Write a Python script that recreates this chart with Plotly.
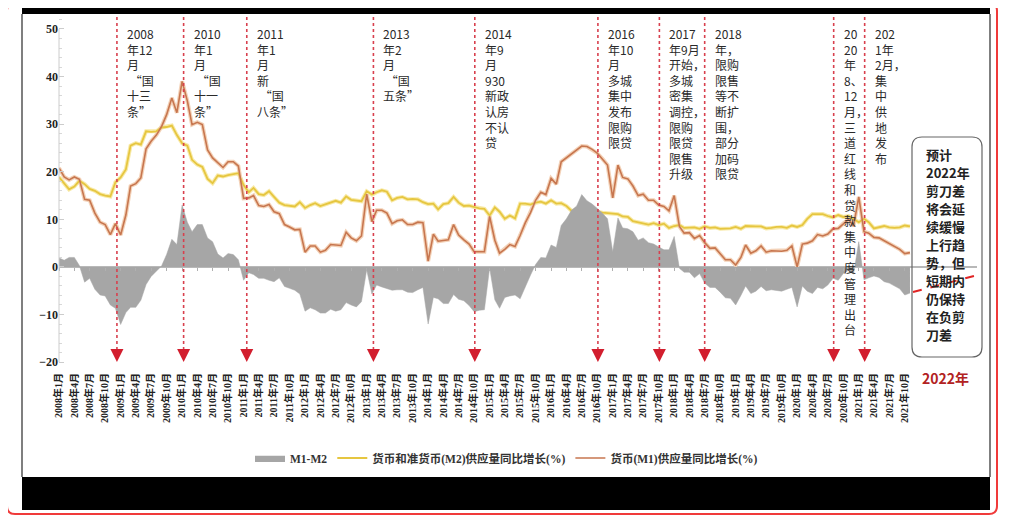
import pandas as pd
import plotly.graph_objects as go

# 货币(M2)供应量同比增长(%)，2008年1月 - 2021年11月
m2 = [
    18.9, 17.5, 16.3, 16.9, 18.1, 17.4, 16.4, 16.0, 15.3, 15.0, 14.8, 17.8,   # 2008
    18.8, 20.5, 25.5, 26.0, 25.7, 28.5, 28.4, 28.5, 29.3, 29.4, 29.7, 27.7,   # 2009
    26.0, 25.5, 22.5, 21.5, 21.0, 18.5, 17.6, 19.2, 19.0, 19.3, 19.5, 19.7,   # 2010
    17.2, 15.7, 16.6, 15.3, 15.1, 15.9, 14.7, 13.5, 13.0, 12.9, 12.7, 13.6,   # 2011
    12.4, 13.0, 13.4, 12.8, 13.2, 13.6, 13.9, 13.5, 14.8, 14.1, 13.9, 13.8,   # 2012
    15.9, 15.2, 15.7, 16.1, 15.8, 14.0, 14.5, 14.7, 14.2, 14.3, 14.2, 13.6,   # 2013
    13.2, 13.3, 12.1, 13.2, 13.4, 14.7, 13.5, 12.8, 12.9, 12.6, 12.3, 12.2,   # 2014
    10.8, 12.5, 11.6, 10.1, 10.8, 10.2, 13.3, 13.3, 13.1, 13.5, 13.7, 13.3,   # 2015
    14.0, 13.3, 13.4, 12.8, 11.8, 11.8, 10.2, 11.4, 11.5, 11.6, 11.4, 11.3,   # 2016
    11.3, 11.1, 10.6, 10.5, 9.6, 9.4, 9.2, 8.9, 9.2, 8.8, 9.1, 8.2,           # 2017
    8.6, 8.8, 8.2, 8.3, 8.3, 8.0, 8.5, 8.2, 8.3, 8.0, 8.0, 8.1,               # 2018
    8.4, 8.0, 8.6, 8.5, 8.5, 8.5, 8.1, 8.2, 8.4, 8.4, 8.2, 8.7,               # 2019
    8.4, 8.8, 10.1, 11.1, 11.1, 11.1, 10.7, 10.4, 10.9, 10.5, 10.7, 10.1,     # 2020
    9.4, 10.1, 9.4, 8.1, 8.3, 8.6, 8.3, 8.2, 8.3, 8.7, 8.5,                   # 2021
]

# 货币(M1)供应量同比增长(%)
m1 = [
    20.8, 18.9, 18.3, 18.9, 18.4, 14.2, 14.0, 11.3, 9.4, 8.9, 6.8, 9.1,       # 2008
    6.7, 10.9, 17.0, 17.5, 18.7, 24.8, 26.4, 27.7, 29.5, 32.0, 35.5, 32.4,    # 2009
    39.0, 34.9, 29.9, 30.4, 29.9, 24.6, 22.9, 21.9, 20.9, 22.1, 22.1, 21.2,   # 2010
    14.4, 14.5, 15.0, 12.9, 12.7, 13.1, 11.6, 11.2, 8.9, 8.4, 7.8, 7.9,       # 2011
    3.1, 4.4, 4.4, 3.1, 3.5, 4.7, 4.6, 4.5, 7.3, 6.1, 5.5, 6.5,               # 2012
    15.3, 9.5, 11.9, 11.9, 11.3, 9.1, 9.7, 9.9, 8.9, 8.9, 9.4, 9.3,           # 2013
    1.2, 6.9, 5.4, 5.5, 5.7, 8.9, 6.7, 5.7, 4.8, 3.2, 3.2, 3.2,               # 2014
    10.6, 5.6, 2.9, 3.7, 4.7, 4.3, 6.6, 9.3, 11.4, 14.0, 15.7, 15.2,          # 2015
    18.6, 17.4, 22.1, 22.9, 23.7, 24.6, 25.4, 25.3, 24.7, 23.9, 22.7, 21.4,   # 2016
    14.5, 21.4, 18.8, 18.5, 17.0, 15.0, 15.3, 14.0, 14.0, 13.0, 12.7, 11.8,   # 2017
    15.0, 8.5, 7.1, 7.2, 6.0, 6.6, 5.1, 3.9, 4.0, 2.7, 1.5, 1.5,              # 2018
    0.4, 2.0, 4.6, 2.9, 3.4, 4.4, 3.1, 3.4, 3.4, 3.3, 3.5, 4.4,               # 2019
    0.0, 4.8, 5.0, 5.5, 6.8, 6.5, 6.9, 8.0, 8.1, 9.1, 10.0, 8.6,              # 2020
    14.7, 7.4, 7.1, 6.2, 6.1, 5.5, 4.9, 4.2, 3.7, 2.8, 3.0,                   # 2021
]

months = pd.date_range("2008-01-01", periods=len(m1), freq="MS")
spread = [round(a - b, 1) for a, b in zip(m1, m2)]  # M1-M2

tick_dates = pd.date_range("2008-01-01", "2021-10-01", freq="3MS")
tick_text = [f"{d.year}年{d.month}月" for d in tick_dates]

event_dates = ["2008-12-10", "2010-01-10", "2011-01-20", "2013-02-10", "2014-10-05",
               "2016-10-05", "2017-10-05", "2018-07-01", "2020-08-05", "2021-02-05"]
event_text = [
    "2008<br>年12<br>月<br> “国<br>十三<br>条”",
    "2010<br>年1<br>月<br> “国<br>十一<br>条”",
    "2011<br>年1<br>月<br>新<br> “国<br>八条”",
    "2013<br>年2<br>月<br> “国<br>五条”",
    "2014<br>年9<br>月<br>930<br>新政<br>认房<br>不认<br>贷",
    "2016<br>年10<br>月<br>多城<br>集中<br>发布<br>限购<br>限贷",
    "2017<br>年9月<br>开始，<br>多城<br>密集<br>调控，<br>限购<br>限贷<br>限售<br>升级",
    "2018<br>年，<br>限购<br>限售<br>等不<br>断扩<br>围，<br>部分<br>加码<br>限贷",
    "20<br>20<br>年<br>8、<br>12<br>月，<br>三<br>道<br>红<br>线<br>和<br>贷<br>款<br>集<br>中<br>度<br>管<br>理<br>出<br>台",
    "202<br>1年<br>2月，<br>集<br>中<br>供<br>地<br>发<br>布",
]
note_lines = ["预计", "2022年", "剪刀差", "将会延", "续缓慢", "上行趋",
              "势，但", "短期内", "仍保持", "在负剪", "刀差"]

# the page body has an 8px margin, so figure pixel = page pixel - 8
OFF = 8
W, H = 1009, 519
L, R, T, B = 59 - OFF, 977 - OFF, 14 - OFF, 364 - OFF
def X(p):  # page pixel -> paper x
    return (p - OFF - L) / (R - L)
def Y(p):  # page pixel -> paper y
    return (B - (p - OFF)) / (B - T)

def rounded(x0, y0, x1, y1, r):
    return (f"M {X(x0 + r)},{Y(y0)} L {X(x1 - r)},{Y(y0)} Q {X(x1)},{Y(y0)} {X(x1)},{Y(y0 + r)} "
            f"L {X(x1)},{Y(y1 - r)} Q {X(x1)},{Y(y1)} {X(x1 - r)},{Y(y1)} "
            f"L {X(x0 + r)},{Y(y1)} Q {X(x0)},{Y(y1)} {X(x0)},{Y(y1 - r)} "
            f"L {X(x0)},{Y(y0 + r)} Q {X(x0)},{Y(y0)} {X(x0 + r)},{Y(y0)} Z")

fig = go.Figure()
fig.add_trace(go.Scatter(x=months, y=spread, name="M1-M2", mode="lines", fill="tozeroy",
                         fillcolor="#a6a6a6", line=dict(color="#a6a6a6", width=0.5), xaxis="x2"))
fig.add_trace(go.Scatter(x=months, y=m2, mode="lines", showlegend=False, hoverinfo="skip",
                         line=dict(color="#f8eaa8", width=4)))
fig.add_trace(go.Scatter(x=months, y=m1, mode="lines", showlegend=False, hoverinfo="skip",
                         line=dict(color="#f3d2b8", width=4)))
fig.add_trace(go.Scatter(x=months, y=m2, name="货币和准货币(M2)供应量同比增长(%)", mode="lines",
                         line=dict(color="#e6c640", width=1.8)))
fig.add_trace(go.Scatter(x=months, y=m1, name="货币(M1)供应量同比增长(%)", mode="lines",
                         line=dict(color="#c7764f", width=1.6)))

shapes = [
    dict(type="path", xref="paper", yref="paper", path=rounded(7, 3, 997, 514, 8),
         line=dict(color="#f03a3a", width=2)),
    dict(type="rect", xref="paper", yref="paper", x0=X(22), x1=X(990), y0=Y(4), y1=Y(14),
         fillcolor="black", line_width=0),
    dict(type="rect", xref="paper", yref="paper", x0=X(22), x1=X(990), y0=Y(477), y1=Y(510),
         fillcolor="black", line_width=0),
    dict(type="line", xref="paper", yref="paper", x0=X(22), x1=X(22), y0=Y(14), y1=Y(477),
         line=dict(color="#555555", width=1.5)),
    dict(type="line", xref="paper", yref="paper", x0=X(990), x1=X(990), y0=Y(14), y1=Y(477),
         line=dict(color="#555555", width=1.5)),
    # y axis line only between -20 and 50
    dict(type="line", xref="paper", yref="y", x0=0, x1=0, y0=-20, y1=50,
         line=dict(color="#cccccc", width=1)),
    dict(type="path", xref="paper", yref="paper", path=rounded(912, 137, 982, 357, 10),
         line=dict(color="#666666", width=1.2)),
    dict(type="line", xref="paper", yref="paper", x0=X(913), x1=X(978), y0=Y(292), y1=Y(275),
         line=dict(color="#e02424", width=2, dash="dash")),
]
for d in event_dates:
    shapes.append(dict(type="line", xref="x", yref="paper", x0=d, x1=d, y0=Y(356), y1=1,
                       line=dict(color="#d8404e", width=1.6, dash="dot")))

annotations = []
for d, t in zip(event_dates, event_text):
    annotations.append(dict(x=d, xref="x", y=Y(23), yref="paper", text=t, showarrow=False,
                            xanchor="left", yanchor="top", xshift=8, align="left",
                            font=dict(size=12, color="#2a2a2a", family="Noto Sans CJK SC")))
    annotations.append(dict(x=d, xref="x", y=-20, yref="y", text="", showarrow=True,
                            ax=0, ay=-9, arrowhead=2, arrowsize=1.3, arrowwidth=2,
                            arrowcolor="#d21e2e"))
for i, line in enumerate(note_lines):
    annotations.append(dict(x=X(925), xref="paper", y=Y(155 + 17.9 * i), yref="paper", text=line,
                            showarrow=False, xanchor="left", yanchor="middle", borderpad=0,
                            font=dict(size=13, color="#222222", family="Noto Sans CJK SC",
                                      weight="bold")))
annotations.append(dict(x=X(945), xref="paper", y=Y(378), yref="paper", text="2022年",
                        showarrow=False, xanchor="center", yanchor="middle",
                        font=dict(size=14, color="#b22222", family="Noto Sans CJK SC", weight="bold")))

fig.update_layout(
    width=W, height=H,
    margin=dict(l=L, r=W - R, t=T, b=H - B, autoexpand=False),
    paper_bgcolor="white", plot_bgcolor="white",
    shapes=shapes, annotations=annotations,
    showlegend=True,
    legend=dict(orientation="h", xref="container", yref="container",
                x=(250 - OFF) / W, y=1 - (458 - OFF) / H, xanchor="left", yanchor="middle",
                font=dict(size=11.5, color="#333333", family="Liberation Serif, Noto Sans CJK SC",
                          weight="bold"),
                itemwidth=30, bgcolor="rgba(0,0,0,0)"),
    xaxis=dict(type="date", range=["2008-01-01", "2022-12-04"], tickvals=tick_dates,
               ticktext=tick_text, tickangle=-90, showgrid=False, showline=False, ticks="",
               ticklabelstandoff=6, zeroline=False, automargin=False,
               tickfont=dict(size=10, color="#222222", family="Liberation Serif, Noto Sans CJK SC",
                             weight="bold")),
    xaxis2=dict(type="date", overlaying="x", matches="x", anchor="free", position=Y(267),
                tickvals=tick_dates, ticks="outside", ticklen=3, tickcolor="#b0b0b0",
                showticklabels=False, showgrid=False, showline=False, zeroline=False),
    yaxis=dict(range=[-20.4, 53.15], tickvals=[-20, -10, 0, 10, 20, 30, 40, 50],
               showgrid=False, showline=False,
               ticks="inside", ticklen=5, tickcolor="#cccccc", automargin=False,
               minor=dict(dtick=2, ticks="inside", ticklen=3, tickcolor="#d8d8d8"),
               zeroline=True, zerolinecolor="#b8b8b8", zerolinewidth=2,
               tickfont=dict(size=12, color="#222222", family="Liberation Serif", weight="bold")),
)

fig.write_html("out.html")
